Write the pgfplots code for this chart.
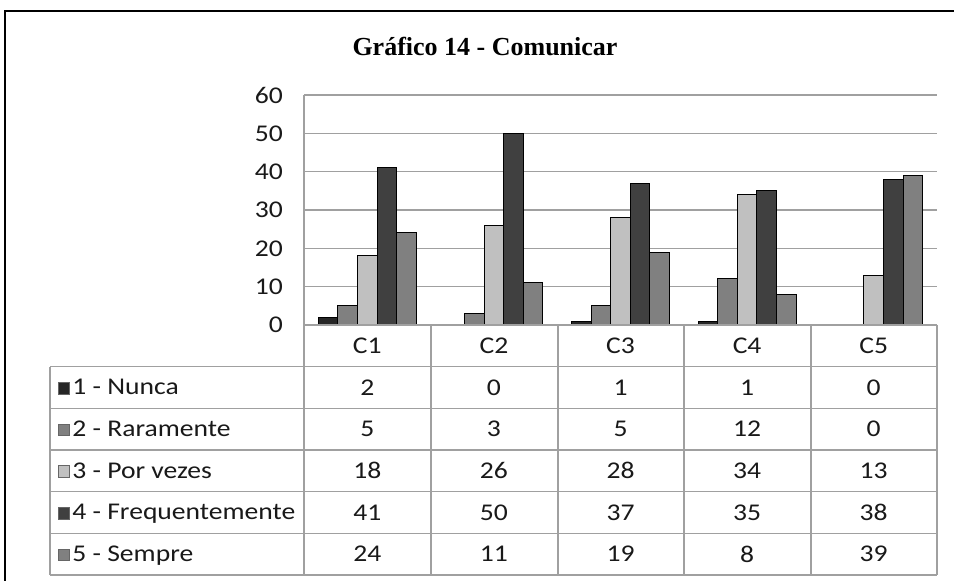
\documentclass[border=0pt]{standalone}
\usepackage{pgfplots}
\pgfplotsset{compat=1.18}
\usepackage{pgfplotstable}
\usepackage{fontspec}
\setmainfont{Carlito}[FakeStretch=1.15]
\newfontfamily\titlefont{Liberation Serif}

\definecolor{nunca}{HTML}{262626}
\definecolor{rara}{HTML}{808080}
\definecolor{vezes}{HTML}{C0C0C0}
\definecolor{freq}{HTML}{404040}
\definecolor{sempre}{HTML}{808080}
\definecolor{gridgray}{HTML}{A0A0A0}

\pgfplotstableread{
x lab nunca rara vezes freq sempre
0 C1 2 5 18 41 24
1 C2 0 3 26 50 11
2 C3 1 5 28 37 19
3 C4 1 12 34 35 8
4 C5 0 0 13 38 39
}\datatable

\newcommand\bw{9.8pt}
\newcommand\lblfont{\fontsize{12}{14}\selectfont}

\begin{document}
\begin{tikzpicture}
\useasboundingbox (0,0) rectangle (477pt,290.5pt);
\begin{axis}[
    at={(152pt,128pt)}, anchor=south west,
    scale only axis,
    width=316.5pt, height=115pt,
    xmin=-0.5, xmax=4.5,
    ymin=0, ymax=60,
    ytick={0,10,20,30,40,50,60},
    xtick={0,1,2,3,4},
    xticklabels from table={\datatable}{lab},
    major tick length=0pt,
    axis x line*=bottom,
    axis y line*=left,
    axis line style={draw=gridgray, line width=0.6pt},
    ymajorgrids,
    grid style={draw=gridgray, line width=0.6pt},
    clip=false,
    /pgf/number format/assume math mode=true,
    tick label style={font=\lblfont, text=black!90},
    yticklabel style={xshift=-7pt},
    xticklabel style={anchor=center, yshift=-10.4pt},
    bar width=\bw,
    every axis plot/.append style={line width=0.5pt},
    nodes near coords style={anchor=center, font=\lblfont, text=black!90},
]
\addplot[ybar, bar shift=-2*\bw, fill=nunca, draw=black] table[x=x, y=nunca] {\datatable};
\addplot[ybar, bar shift=-\bw, fill=rara, draw=black] table[x=x, y=rara] {\datatable};
\addplot[ybar, bar shift=0pt, fill=vezes, draw=black] table[x=x, y=vezes] {\datatable};
\addplot[ybar, bar shift=\bw, fill=freq, draw=black] table[x=x, y=freq] {\datatable};
\addplot[ybar, bar shift=2*\bw, fill=sempre, draw=black] table[x=x, y=sempre] {\datatable};
% data table rows
\addplot[draw=none, mark=none, nodes near coords, point meta=explicit] table[x=x, y expr=-16.30, meta=nunca] {\datatable};
\addplot[draw=none, mark=none, nodes near coords, point meta=explicit] table[x=x, y expr=-27.17, meta=rara] {\datatable};
\addplot[draw=none, mark=none, nodes near coords, point meta=explicit] table[x=x, y expr=-38.04, meta=vezes] {\datatable};
\addplot[draw=none, mark=none, nodes near coords, point meta=explicit] table[x=x, y expr=-48.91, meta=freq] {\datatable};
\addplot[draw=none, mark=none, nodes near coords, point meta=explicit] table[x=x, y expr=-59.78, meta=sempre] {\datatable};
\end{axis}
\begin{scope}[x=0.5pt, y=-0.5pt, shift={(0pt,290.5pt)}]
  \draw[line width=1.1pt] (5,581) -- (5,11) -- (954,11);
  \node[font=\titlefont\bfseries\fontsize{13}{15}\selectfont] at (485,47) {Gráfico 14 - Comunicar};
  \begin{scope}[draw=gridgray, line width=0.6pt]
    \foreach \yy in {366.7,408.3,450,491.7,533.3,575}
      \draw (50,\yy) -- (937,\yy);
    \draw (304,325) -- (937,325);
    \draw (50,366.7) -- (50,575);
    \foreach \xx in {304,431,558,684,811,937}
      \draw (\xx,325) -- (\xx,575);
  \end{scope}
  \foreach \yy/\col/\lab in {387.5/nunca/1 - Nunca, 429.2/rara/2 - Raramente, 470.8/vezes/3 - Por vezes, 512.5/freq/4 - Frequentemente, 554.2/sempre/5 - Sempre} {
    \draw[fill=\col, draw=gray!80!black, line width=0.4pt] (58.5,\yy-5) rectangle (69.5,\yy+6.5);
    \node[anchor=base west, inner sep=0pt, font=\lblfont, text=black!90] at (72,\yy+7.5) {\lab};
  }
\end{scope}
\end{tikzpicture}
\end{document}
